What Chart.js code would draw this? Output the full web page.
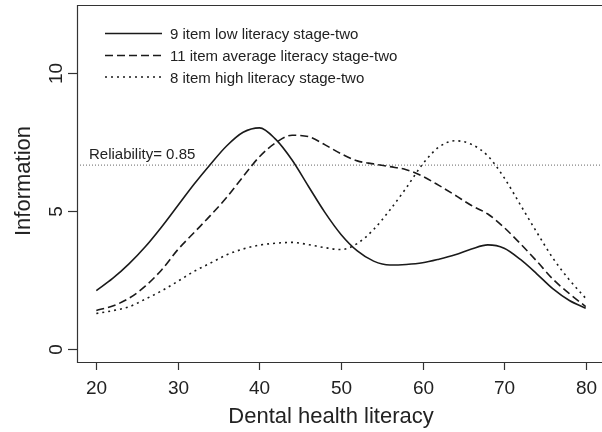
<!DOCTYPE html>
<html>
<head>
<meta charset="utf-8">
<script src="https://cdn.jsdelivr.net/npm/chart.js@4/dist/chart.umd.min.js"></script>
<style>
    body { margin: 0; background: #ffffff; }
    canvas { display: block; }
</style>
</head>
<body>
<canvas id="infoChart" width="602" height="432"></canvas>
<script>
// dental health literacy (x) and test information for each stage-two form
var literacy = [ 20, 22, 24, 26, 28, 30, 32, 34, 36, 38, 40, 42, 44, 46, 48, 50,
                 52, 54, 56, 58, 60, 62, 64, 66, 68, 70, 72, 74, 76, 78, 80 ];
var lowInfo = [ 2.11, 2.55, 3.08, 3.7, 4.42, 5.2, 5.98, 6.7, 7.37, 7.86, 8.02, 7.6, 6.85, 5.9, 4.96, 4.15,
                3.55, 3.18, 3.04, 3.06, 3.12, 3.25, 3.41, 3.62, 3.77, 3.65, 3.24, 2.72, 2.17, 1.75, 1.47 ];
var averageInfo = [ 1.39, 1.55, 1.83, 2.27, 2.86, 3.6, 4.22, 4.84, 5.5, 6.25, 6.97, 7.48, 7.75, 7.7, 7.41, 7.08,
                    6.82, 6.71, 6.61, 6.5, 6.26, 5.93, 5.57, 5.2, 4.89, 4.4, 3.81, 3.18, 2.52, 2.0, 1.53 ];
var highInfo = [ 1.28, 1.38, 1.52, 1.8, 2.1, 2.45, 2.81, 3.11, 3.41, 3.62, 3.76, 3.83, 3.86, 3.78, 3.67, 3.6,
                 3.82, 4.33, 5.04, 5.84, 6.7, 7.32, 7.55, 7.42, 7.0, 6.21, 5.22, 4.23, 3.28, 2.5, 1.83 ];
var seriesNames = [ '9 item low literacy stage-two', '11 item average literacy stage-two', '8 item high literacy stage-two' ];
var xTicks = [ 20, 30, 40, 50, 60, 70, 80 ];
var yTicks = [ 0, 5, 10 ];
var reliability = 0.85;

var FONT = '"Liberation Sans", Arial, Helvetica, sans-serif';
var INK = '#1a1a1a';
var dashes = [ [], [ 8, 4 ], [ 2, 4 ] ];

function buildPoints( xs, ys )
{
    var pts = [];
    for ( var i = 0; i < xs.length; i++ ) {
        pts.push( { x: xs[i], y: ys[i] } );
    }
    return pts;
}

function curveDataSet( label, values, dash )
{
    return {
        label: label,
        data: buildPoints( literacy, values ),
        borderColor: INK,
        borderWidth: 1.6,
        borderDash: dash,
        pointRadius: 0,
        cubicInterpolationMode: 'monotone',
        fill: false
    };
}

// frame, ticks, labels and legend drawn by hand, R base-graphics style
var axesPlugin = {
    id: 'axesPlugin',
    afterDraw: function( chart ) {
        var ctx = chart.ctx, area = chart.chartArea;
        var xs = chart.scales.x, ys = chart.scales.y;
        ctx.save();

        ctx.strokeStyle = '#333333';
        ctx.lineWidth = 1.2;
        ctx.beginPath();
        ctx.moveTo( 602, area.top + 0.5 );
        ctx.lineTo( area.left + 0.5, area.top + 0.5 );
        ctx.lineTo( area.left + 0.5, area.bottom + 0.5 );
        ctx.lineTo( 602, area.bottom + 0.5 );
        ctx.stroke();

        ctx.fillStyle = '#222222';
        ctx.font = '19px ' + FONT;
        ctx.textAlign = 'center';
        ctx.textBaseline = 'alphabetic';
        xTicks.forEach( function( v ) {
            var px = Math.round( xs.getPixelForValue( v ) ) + 0.5;
            ctx.beginPath();
            ctx.moveTo( px, area.bottom );
            ctx.lineTo( px, area.bottom + 8 );
            ctx.stroke();
            ctx.fillText( String( v ), px, 394 );
        });
        yTicks.forEach( function( v ) {
            var py = Math.round( ys.getPixelForValue( v ) ) + 0.5;
            ctx.beginPath();
            ctx.moveTo( area.left - 9, py );
            ctx.lineTo( area.left, py );
            ctx.stroke();
            ctx.save();
            ctx.translate( 62, py );
            ctx.rotate( -Math.PI / 2 );
            ctx.fillText( String( v ), 0, 0 );
            ctx.restore();
        });

        ctx.font = '22px ' + FONT;
        ctx.fillText( 'Dental health literacy', 331, 423 );
        ctx.save();
        ctx.translate( 30, 181 );
        ctx.rotate( -Math.PI / 2 );
        ctx.fillText( 'Information', 0, 0 );
        ctx.restore();

        ctx.font = '15px ' + FONT;
        ctx.textAlign = 'left';
        ctx.fillText( 'Reliability= ' + reliability.toFixed( 2 ), 89, 159 );

        var rowY = [ 33.5, 55.5, 77 ];
        for ( var i = 0; i < seriesNames.length; i++ ) {
            ctx.strokeStyle = INK;
            ctx.lineWidth = 1.6;
            ctx.setLineDash( dashes[i] );
            ctx.beginPath();
            ctx.moveTo( 105, rowY[i] );
            ctx.lineTo( 162, rowY[i] );
            ctx.stroke();
            ctx.setLineDash( [] );
            ctx.fillText( seriesNames[i], 170, rowY[i] + 5.5 );
        }
        ctx.restore();
    }
};

function drawChart( chartElementId )
{
    var xMin = 17.63, xMax = 82.0;
    var relInfo = 1 / ( 1 - reliability );
    var ctxP = document.getElementById( chartElementId ).getContext( '2d' );
    var chart = new Chart( ctxP, {
        type: 'line',
        data: {
            datasets: [
                curveDataSet( seriesNames[0], lowInfo, dashes[0] ),
                curveDataSet( seriesNames[1], averageInfo, dashes[1] ),
                curveDataSet( seriesNames[2], highInfo, dashes[2] ),
                {
                    label: 'reliability',
                    data: [ { x: xMin, y: relInfo }, { x: xMax, y: relInfo } ],
                    borderColor: '#666666',
                    borderWidth: 1,
                    borderDash: [ 1, 2 ],
                    pointRadius: 0,
                    fill: false
                }
            ]
        },
        options: {
            responsive: false,
            animation: false,
            layout: { padding: { left: 77, top: 5, right: 0, bottom: 70 } },
            scales: {
                x: { type: 'linear', min: xMin, max: xMax, display: false },
                y: { type: 'linear', min: -0.483, max: 12.48, display: false }
            },
            plugins: {
                legend: { display: false },
                tooltip: { enabled: false }
            }
        },
        plugins: [ axesPlugin ]
    });
    return chart;
}

drawChart( 'infoChart' );
</script>
</body>
</html>
